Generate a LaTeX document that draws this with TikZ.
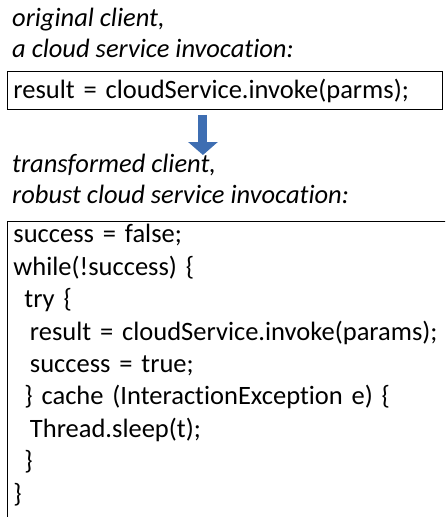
\documentclass[tikz,border=0pt]{standalone}
\usepackage{fontspec}
\setmainfont{Carlito}[Ligatures=CommonOff]
\usetikzlibrary{arrows.meta,positioning}

\definecolor{arrowblue}{RGB}{62,110,178}

% indentation of the code lines
\newlength\codestep
\setlength\codestep{5.5pt}
\newcommand\codetab[1]{\hspace*{#1\codestep}}

\tikzset{
  caption/.style={anchor=base west, inner sep=0pt, align=left,
    font=\fontsize{26.5}{31}\selectfont\itshape},
  codebox/.style={draw, line width=0.9pt, anchor=north west, inner xsep=6pt,
    align=left, font=\fontsize{26.5}{32.4}\selectfont},
  bigarrow/.style={arrowblue, line width=9pt,
    -{Triangle[width=29pt,length=13pt]}},
}

\begin{document}
\begin{tikzpicture}[x=1pt,y=-1pt]
  \useasboundingbox (0,0) rectangle (445,517);
  \clip (0,0) rectangle (445,517);

  % before
  \node[caption] (origcap) at (12,57) {original client,\\a cloud service invocation:};
  \node[codebox, text width=423pt, minimum height=38pt, inner ysep=0pt] (orig) at (7,71)
    {result = cloudService.invoke(parms);};

  % after
  \node[caption] (robustcap) at (12,203) {transformed client,\\robust cloud service invocation:};
  \node[codebox, text width=480pt, inner ysep=3pt, text depth=400pt] (robust) at (7,221)
    {success = false;\\
     while(!success) \{\\
     \codetab{2}try \{\\
     \codetab{3}result = cloudService.invoke(params);\\
     \codetab{3}success = true;\\
     \codetab{2}\} cache (InteractionException e) \{\\
     \codetab{3}Thread.sleep(t);\\
     \codetab{2}\}\\
     \}};

  % transformation arrow
  \coordinate (from) at ([xshift=-22pt,yshift=-5pt]orig.south);
  \coordinate (to) at (from |- 0,155);
  \draw[bigarrow] (from) -- (to);
\end{tikzpicture}
\end{document}
